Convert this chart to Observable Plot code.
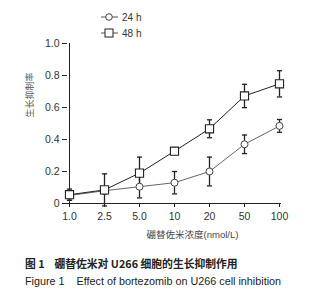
<!DOCTYPE html>
<html>
<head>
<meta charset="utf-8">
<script src="https://cdn.jsdelivr.net/npm/d3@7"></script>
<script src="https://cdn.jsdelivr.net/npm/@observablehq/plot@0.6"></script>
<style>
  html, body { margin: 0; padding: 0; background: #fff; }
  body { width: 324px; height: 300px; position: relative; overflow: hidden;
         font-family: "Liberation Sans", "Noto Sans CJK SC", sans-serif; color: #222; }
  #chart { position: absolute; left: 0; top: 0; width: 324px; height: 250px; }
  #chart svg { display: block; width: 324px; height: 250px; max-width: none; }
  #legend { position: absolute; left: 100px; top: 9px; font-size: 10px; color: #333; }
  #legend .item { display: flex; align-items: center; height: 16px; }
  #legend svg { margin-right: 3px; }
  #caption { position: absolute; left: 25px; top: 254px; }
  #caption div { white-space: pre; line-height: 18px; }
  #cap-cn { font-family: "Noto Sans CJK SC", sans-serif; font-weight: bold; font-size: 10.8px; color: #222; }
  #cap-en { font-family: "Liberation Sans", sans-serif; font-size: 10.8px; color: #222; }
</style>
</head>
<body>
<div id="chart"></div>
<div id="legend"></div>
<div id="caption"><div id="cap-cn"></div><div id="cap-en"></div></div>
<script>
const doses = ["1.0", "2.5", "5.0", "10", "20", "50", "100"];
const mean24 = [0.05, 0.08, 0.105, 0.13, 0.20, 0.37, 0.485];
const err24  = [0.03, 0.02, 0.07, 0.07, 0.09, 0.058, 0.04];
const mean48 = [0.055, 0.085, 0.19, 0.327, 0.467, 0.672, 0.748];
const err48  = [0.035, 0.10, 0.10, 0.022, 0.056, 0.073, 0.082];
const seriesNames = ["24 h", "48 h"];
const yTicks = [0, 0.2, 0.4, 0.6, 0.8, 1.0];
const xLabel = "硼替佐米浓度(nmol/L)";
const yLabel = "生长抑制率";
const captionCn = "图 1    硼替佐米对 U266 细胞的生长抑制作用";
const captionEn = "Figure 1    Effect of bortezomib on U266 cell inhibition";

const rows24 = doses.map((d, i) => ({dose: d, m: mean24[i], lo: mean24[i] - err24[i], hi: mean24[i] + err24[i]}));
const rows48 = doses.map((d, i) => ({dose: d, m: mean48[i], lo: mean48[i] - err48[i], hi: mean48[i] + err48[i]}));

// horizontal cap symbol for error bars
const capSymbol = {draw(ctx, size) { const w = Math.sqrt(size) / 2; ctx.moveTo(-w, 0); ctx.lineTo(w, 0); }};
const capOpts = {symbol: capSymbol, r: 2.9, stroke: "#222", strokeWidth: 1.3, fill: "none"};

const chart = Plot.plot({
  width: 324,
  height: 250,
  marginLeft: 67,
  marginRight: 43,
  marginTop: 43,
  marginBottom: 47,
  style: {fontFamily: "'Liberation Sans', 'Noto Sans CJK SC', sans-serif", fontSize: "10.5px", color: "#333", background: "#fff"},
  x: {type: "point", domain: doses, padding: 0},
  y: {domain: [0, 1]},
  marks: [
    Plot.axisY({ticks: yTicks, tickFormat: d => d === 0 ? "0" : d.toFixed(1), tickSize: 5, tickPadding: 3,
                label: null, fontSize: 10.5, stroke: "#222"}),
    Plot.axisX({tickSize: 4, tickPadding: 5, label: null, fontSize: 10.5, stroke: "#222"}),
    Plot.ruleX([doses[0]], {y1: 0, y2: 1, stroke: "#222"}),
    Plot.ruleY([0], {stroke: "#222"}),
    Plot.text([yLabel], {frameAnchor: "left", dx: -37, dy: -6, rotate: -90, text: d => d,
                         fontFamily: "'Noto Sans CJK SC', sans-serif", fontSize: 9, fill: "#555"}),
    Plot.text([xLabel], {frameAnchor: "bottom", dy: 34, dx: 18, text: d => d,
                         fontSize: 9.5, fill: "#444"}),
    Plot.line(rows24, {x: "dose", y: "m", stroke: "#666", strokeWidth: 1}),
    Plot.line(rows48, {x: "dose", y: "m", stroke: "#222", strokeWidth: 1}),
    Plot.ruleX(rows24, {x: "dose", y1: "lo", y2: "hi", stroke: "#222", strokeWidth: 1.3}),
    Plot.dot(rows24, {x: "dose", y: "lo", ...capOpts}),
    Plot.dot(rows24, {x: "dose", y: "hi", ...capOpts}),
    Plot.ruleX(rows48, {x: "dose", y1: "lo", y2: "hi", stroke: "#222", strokeWidth: 1.3}),
    Plot.dot(rows48, {x: "dose", y: "lo", ...capOpts}),
    Plot.dot(rows48, {x: "dose", y: "hi", ...capOpts}),
    Plot.dot(rows24, {x: "dose", y: "m", r: 3.5, fill: "#fff", stroke: "#444", strokeWidth: 1}),
    Plot.dot(rows48, {x: "dose", y: "m", r: 4.6, symbol: "square", fill: "#fff", stroke: "#222", strokeWidth: 1.1})
  ]
});
document.getElementById("chart").appendChild(chart);

// legend
const legend = document.getElementById("legend");
seriesNames.forEach((name, i) => {
  const item = document.createElement("div");
  item.className = "item";
  const marker = i === 0
    ? '<circle cx="9" cy="6" r="3.3" fill="#fff" stroke="#444"/>'
    : '<rect x="5" y="2" width="8" height="8" fill="#fff" stroke="#222"/>';
  item.innerHTML = '<svg width="19" height="12"><line x1="1" y1="6" x2="18" y2="6" stroke="#555"/>' + marker + '</svg><span>' + name + '</span>';
  legend.appendChild(item);
});
document.getElementById("cap-cn").textContent = captionCn;
document.getElementById("cap-en").textContent = captionEn;
</script>
</body>
</html>
